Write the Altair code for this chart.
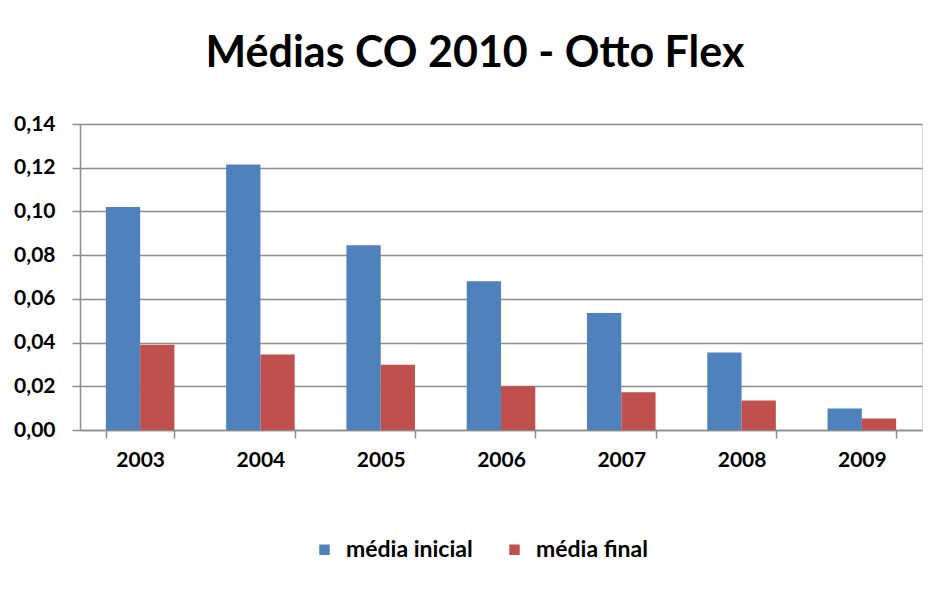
import altair as alt
import pandas as pd

years = ["2003", "2004", "2005", "2006", "2007", "2008", "2009"]
media_inicial = [0.102, 0.1215, 0.0845, 0.068, 0.0535, 0.0355, 0.0098]
media_final = [0.039, 0.0345, 0.0298, 0.0200, 0.0173, 0.0135, 0.0053]
series = ["média inicial", "média final"]
colors = ["#4F81BD", "#C0504D"]
y_ticks = [0, 0.02, 0.04, 0.06, 0.08, 0.10, 0.12, 0.14]

rows = []
for i, yr in enumerate(years):
    rows.append({"ano": yr, "serie": series[0], "valor": media_inicial[i]})
    rows.append({"ano": yr, "serie": series[1], "valor": media_final[i]})
df = pd.DataFrame(rows)

FONT = "Lato"
GRAY = "#8C8C8C"

chart = alt.Chart(df).mark_bar().encode(
    x=alt.X(
        "ano:N", sort=years, title=None,
        scale=alt.Scale(paddingInner=0.43, paddingOuter=0.215),
        axis=alt.Axis(
            labelAngle=0, tickBand="extent", labelFont=FONT, labelFontSize=21,
            labelFontWeight="bold", labelColor="black", labelPadding=11,
            tickSize=8, tickColor=GRAY, domainColor=GRAY, tickWidth=1.5,
            domainWidth=1.5, grid=False,
        ),
    ),
    xOffset=alt.XOffset("serie:N", sort=series,
                        scale=alt.Scale(paddingInner=0, paddingOuter=0)),
    y=alt.Y(
        "valor:Q", title=None, scale=alt.Scale(domain=[0, 0.14], nice=False),
        axis=alt.Axis(
            values=y_ticks,
            labelExpr="replace(format(datum.value, '.2f'), '.', ',')",
            labelFont=FONT, labelFontSize=21, labelFontWeight="bold",
            labelColor="black", labelPadding=17, tickSize=8, tickColor=GRAY,
            domainColor=GRAY, tickWidth=1.5, domainWidth=1.5,
            grid=True, gridColor=GRAY, gridWidth=1.5,
        ),
    ),
    color=alt.Color(
        "serie:N", sort=series,
        scale=alt.Scale(domain=series, range=colors),
        legend=alt.Legend(
            title=None, orient="none", legendX=233, legendY=414,
            direction="horizontal", symbolType="square", symbolSize=110,
            symbolStrokeWidth=0, labelFont=FONT, labelFontSize=23,
            labelFontWeight="bold", labelColor="black", labelOffset=10,
            columnPadding=30, padding=0,
        ),
    ),
).properties(
    width=842, height=306,
    title=alt.TitleParams(
        "Médias CO 2010 - Otto Flex", font=FONT, fontSize=43,
        fontWeight="bold", color="black", anchor="middle", dx=-26,
        offset=3, baseline="alphabetic",
    ),
    padding={"left": 72, "top": 116, "right": 17, "bottom": 150},
    autosize=alt.AutoSizeParams(type="none"),
).configure_view(stroke=None).configure(background="white")

chart.save("out.html", embed_options={"renderer": "svg", "actions": False})
